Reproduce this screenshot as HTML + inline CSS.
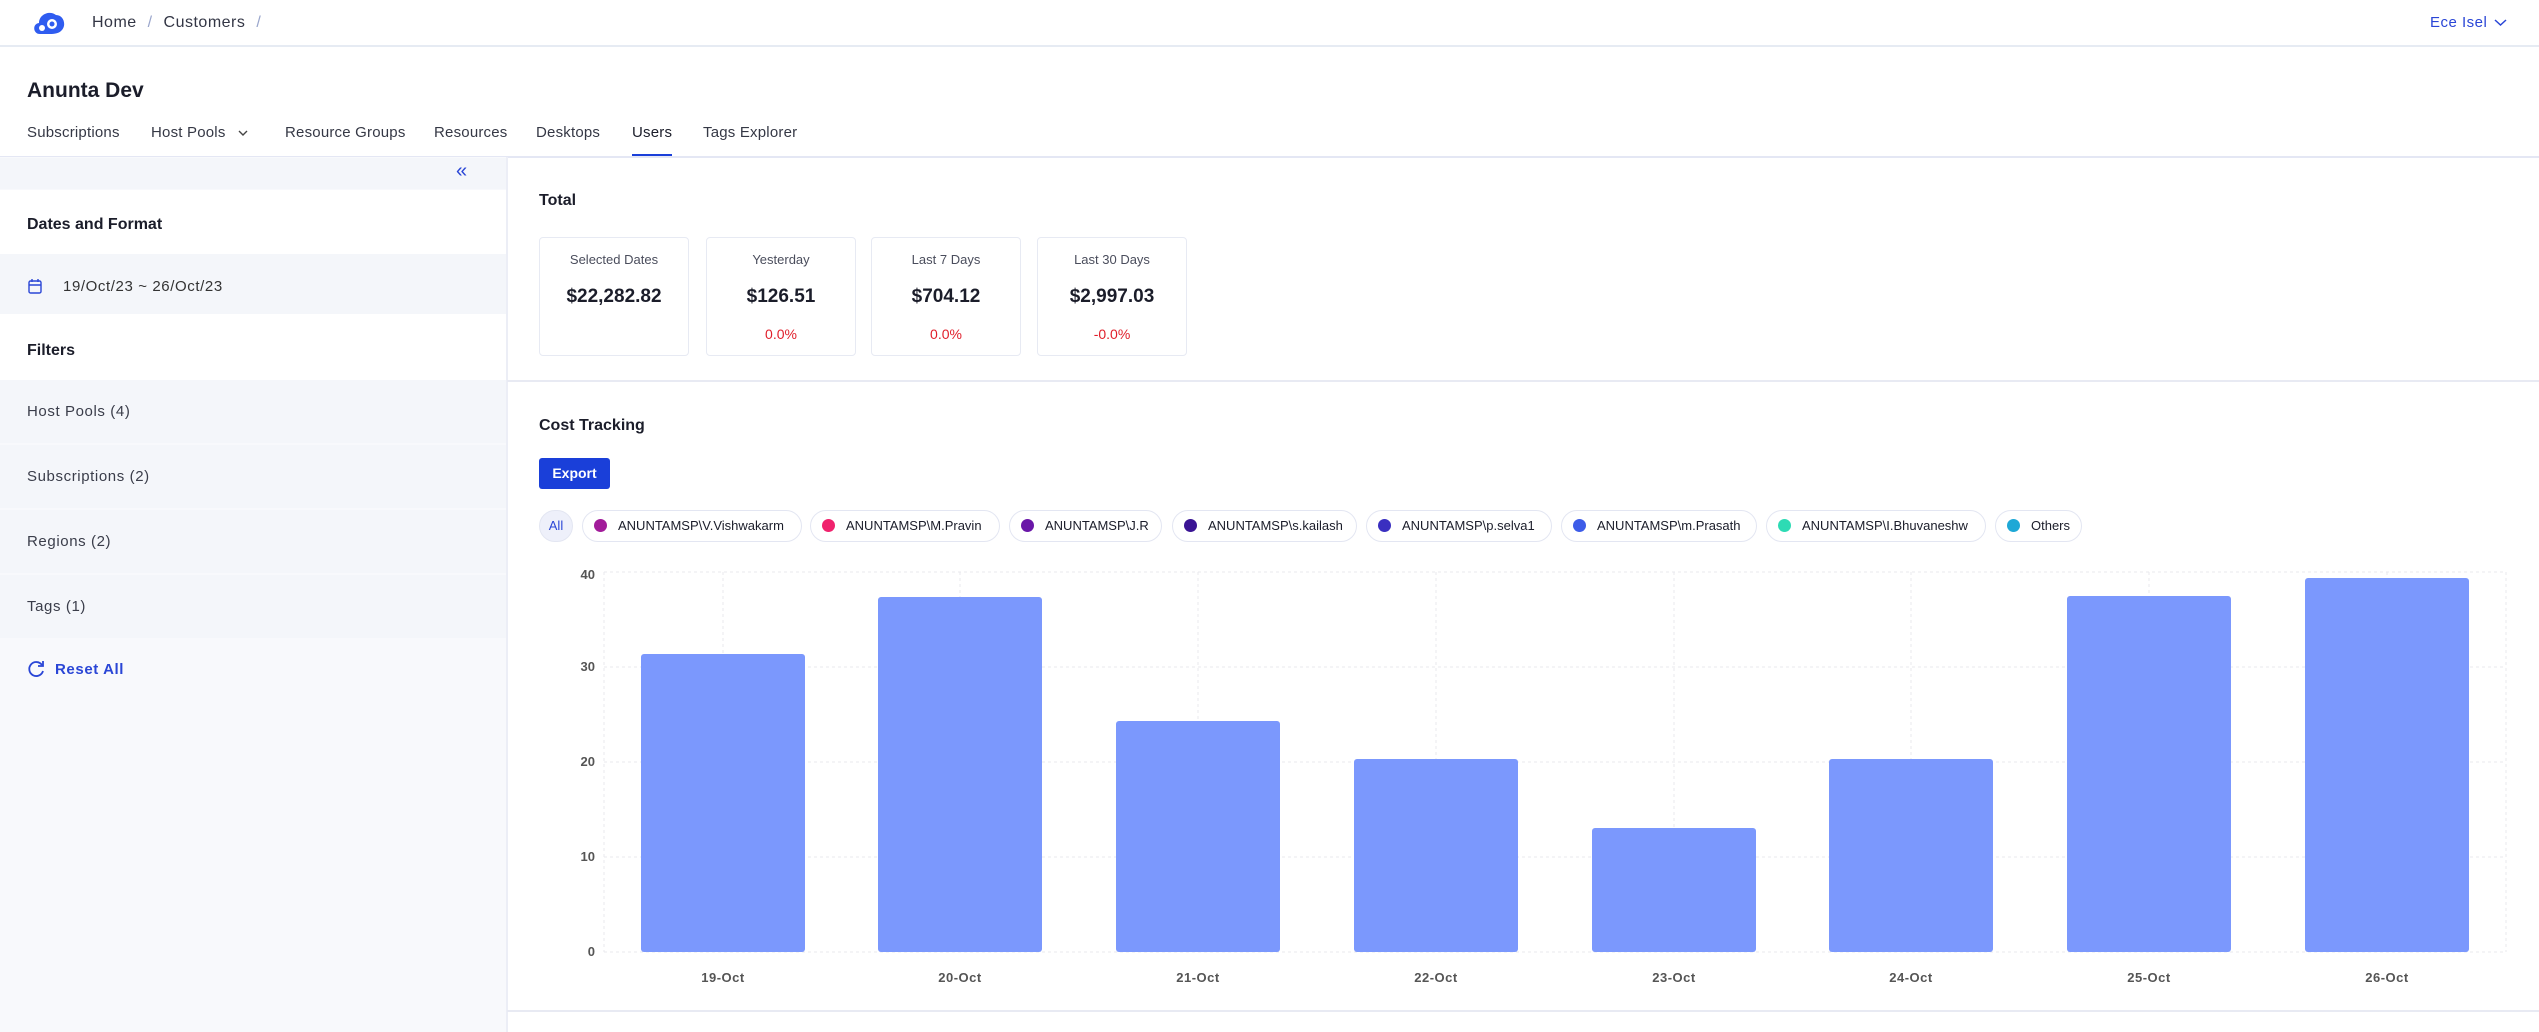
<!DOCTYPE html>
<html><head><meta charset="utf-8"><style>
*{margin:0;padding:0;box-sizing:border-box}
body{width:2539px;height:1032px;position:relative;overflow:hidden;background:#fff;font-family:"Liberation Sans",sans-serif;color:#1f2233}
.a{position:absolute;white-space:nowrap}
.t{font-size:15px;letter-spacing:0.6px;color:#3a3d4a}
.row{position:absolute;left:0;width:506px;background:#f4f6fa}
.card{position:absolute;top:237px;width:150px;height:119px;border:1.5px solid #e7eaf3;border-radius:4px;text-align:center}
.card .l{position:absolute;top:14px;width:100%;font-size:13px;color:#4a4d5c}
.card .v{position:absolute;top:48px;width:100%;font-size:19px;font-weight:bold;color:#1b1d2a}
.card .p{position:absolute;top:88px;width:100%;font-size:14px;color:#e01e2a}
.chip{position:absolute;top:510px;height:32px;border:1.5px solid #e3e6f2;border-radius:16px;font-size:13px;line-height:29px;padding-left:35px;color:#1b1d2a}
.chip i{position:absolute;left:11px;top:8px;width:13px;height:13px;border-radius:50%}
.yl{position:absolute;font-size:13px;font-weight:bold;color:#555;text-align:right;width:30px;left:565px}
.xl{position:absolute;top:970px;font-size:13px;font-weight:bold;color:#555;width:100px;text-align:center;letter-spacing:0.5px}
</style></head><body>
<svg class="a" style="left:32px;top:10px" width="34" height="26" viewBox="0 0 34 26"><path d="M8 24 C1 24 0 14 7 13 C7 4 18 0 24 5 C32 5 35 16 29 21 C26 24 20 24 17 24 Z" fill="#2f5cf0"/><circle cx="20" cy="14" r="5" fill="#fff"/><circle cx="20" cy="14" r="2.5" fill="#2f5cf0"/><circle cx="10" cy="18" r="3" fill="#fff"/></svg>
<div class="a" style="left:92px;top:14px;font-size:16px;color:#333645;letter-spacing:0.5px">Home <span style="color:#9aa6cc;margin:0 6px">/</span> Customers <span style="color:#9aa6cc;margin-left:6px">/</span></div>
<div class="a" style="left:2430px;top:14px;font-size:15px;color:#2a46d6;letter-spacing:0.5px">Ece Isel</div>
<svg class="a" style="left:2494px;top:19px" width="13" height="8"><path d="M1 1 L6.5 6 L12 1" stroke="#2a46d6" stroke-width="1.5" fill="none"/></svg>
<div class="a" style="left:0;top:45px;width:2539px;height:1.5px;background:#e6ebf3"></div>
<div class="a" style="left:27px;top:79px;font-size:21px;font-weight:bold;color:#1b1d2a">Anunta Dev</div>
<div class="a" style="top:124px;left:0;font-size:15px;color:#353845;letter-spacing:0.2px;width:900px">
<span class="a" style="left:27px">Subscriptions</span><span class="a" style="left:151px">Host Pools</span>
<svg class="a" style="left:238px;top:6px" width="10" height="7"><path d="M1 1 L5 5 L9 1" stroke="#444" stroke-width="1.4" fill="none"/></svg>
<span class="a" style="left:285px">Resource Groups</span><span class="a" style="left:434px">Resources</span><span class="a" style="left:536px">Desktops</span><span class="a" style="left:632px;color:#1b1d2a">Users</span><span class="a" style="left:703px">Tags Explorer</span></div>
<div class="a" style="left:632px;top:154px;width:40px;height:3px;background:#1a3fd9"></div>
<div class="a" style="left:0;top:156px;width:2539px;height:1.5px;background:#e4e7f4"></div>
<div class="a" style="left:0;top:157px;width:506px;height:875px;background:#f8f9fc"></div>
<div class="a" style="left:506px;top:157px;width:1.5px;height:875px;background:#eceef6"></div>
<div class="row" style="top:158px;height:31px"></div>
<div class="a" style="left:456px;top:160px;font-size:20px;color:#2a46d6">«</div>
<div class="row" style="top:190px;height:64px;background:#fff"></div>
<div class="a" style="left:27px;top:216px;font-size:16px;font-weight:bold;color:#1b1d2a">Dates and Format</div>
<div class="row" style="top:254px;height:60px"></div>
<svg class="a" style="left:28px;top:278px" width="14" height="16"><rect x="1" y="3" width="12" height="12" rx="1.5" stroke="#2a46d6" stroke-width="1.4" fill="none"/><path d="M1 7 H13 M4 1 V4 M10 1 V4" stroke="#2a46d6" stroke-width="1.4"/></svg>
<div class="a t" style="left:63px;top:278px;color:#333">19/Oct/23 ~ 26/Oct/23</div>
<div class="row" style="top:314px;height:66px;background:#fff"></div>
<div class="a" style="left:27px;top:342px;font-size:16px;font-weight:bold;color:#1b1d2a">Filters</div>
<div class="row" style="top:380px;height:63px"></div><div class="a t" style="left:27px;top:403px">Host Pools (4)</div>
<div class="row" style="top:445px;height:63px"></div><div class="a t" style="left:27px;top:468px">Subscriptions (2)</div>
<div class="row" style="top:510px;height:63px"></div><div class="a t" style="left:27px;top:533px">Regions (2)</div>
<div class="row" style="top:575px;height:63px"></div><div class="a t" style="left:27px;top:598px">Tags (1)</div>
<svg class="a" style="left:27px;top:660px" width="19" height="19"><path d="M15 5 A7 7 0 1 0 16 11" stroke="#2a46d6" stroke-width="1.8" fill="none"/><path d="M16 1 V6 H11" stroke="#2a46d6" stroke-width="1.8" fill="none"/></svg>
<div class="a t" style="left:55px;top:661px;color:#2a46d6;font-weight:bold">Reset All</div>
<div class="a" style="left:539px;top:192px;font-size:16px;font-weight:bold;color:#1b1d2a">Total</div>
<div class="card" style="left:539px"><div class="l">Selected Dates</div><div class="v">$22,282.82</div></div>
<div class="card" style="left:706px"><div class="l">Yesterday</div><div class="v">$126.51</div><div class="p">0.0%</div></div>
<div class="card" style="left:871px"><div class="l">Last 7 Days</div><div class="v">$704.12</div><div class="p">0.0%</div></div>
<div class="card" style="left:1037px"><div class="l">Last 30 Days</div><div class="v">$2,997.03</div><div class="p">-0.0%</div></div>
<div class="a" style="left:507px;top:380px;width:2032px;height:1.5px;background:#e8eaf3"></div>
<div class="a" style="left:539px;top:417px;font-size:16px;font-weight:bold;color:#1b1d2a">Cost Tracking</div>
<div class="a" style="left:539px;top:458px;width:71px;height:31px;background:#1a3fd9;border-radius:3px;color:#fff;font-size:14px;font-weight:bold;text-align:center;line-height:31px">Export</div>
<div class="chip" style="left:539px;width:34px;padding:0;text-align:center;background:#eef0fa;color:#2a46d6">All</div>
<div class="chip" style="left:582px;width:220px"><i style="background:#a21c9a"></i>ANUNTAMSP\V.Vishwakarm</div>
<div class="chip" style="left:810px;width:190px"><i style="background:#f0226d"></i>ANUNTAMSP\M.Pravin</div>
<div class="chip" style="left:1009px;width:153px"><i style="background:#6a17a8"></i>ANUNTAMSP\J.R</div>
<div class="chip" style="left:1172px;width:185px"><i style="background:#3a1494"></i>ANUNTAMSP\s.kailash</div>
<div class="chip" style="left:1366px;width:186px"><i style="background:#3a2fc0"></i>ANUNTAMSP\p.selva1</div>
<div class="chip" style="left:1561px;width:196px"><i style="background:#3d5ce8"></i>ANUNTAMSP\m.Prasath</div>
<div class="chip" style="left:1766px;width:220px"><i style="background:#2ddbb4"></i>ANUNTAMSP\I.Bhuvaneshw</div>
<div class="chip" style="left:1995px;width:87px"><i style="background:#1ea8d6"></i>Others</div>
<svg class="a" style="left:0;top:0" width="2539" height="1032">
<g stroke="#e8e9ee" stroke-width="1" stroke-dasharray="3 3" fill="none">
<path d="M604 572 H2506 M604 667 H2506 M604 762 H2506 M604 857 H2506 M604 952 H2506 M604 572 V952 M2506 572 V952"/>
<path d="M723 572V952 M960 572V952 M1198 572V952 M1436 572V952 M1674 572V952 M1911 572V952 M2149 572V952 M2387 572V952"/>
</g>
<g fill="#7b98fd">
<rect x="641" y="654" width="164" height="298" rx="3"/>
<rect x="878" y="597" width="164" height="355" rx="3"/>
<rect x="1116" y="721" width="164" height="231" rx="3"/>
<rect x="1354" y="759" width="164" height="193" rx="3"/>
<rect x="1592" y="828" width="164" height="124" rx="3"/>
<rect x="1829" y="759" width="164" height="193" rx="3"/>
<rect x="2067" y="596" width="164" height="356" rx="3"/>
<rect x="2305" y="578" width="164" height="374" rx="3"/>
</g></svg>
<div class="yl" style="top:567px">40</div><div class="yl" style="top:659px">30</div><div class="yl" style="top:754px">20</div><div class="yl" style="top:849px">10</div><div class="yl" style="top:944px">0</div>
<div class="xl" style="left:673px">19-Oct</div><div class="xl" style="left:910px">20-Oct</div><div class="xl" style="left:1148px">21-Oct</div><div class="xl" style="left:1386px">22-Oct</div><div class="xl" style="left:1624px">23-Oct</div><div class="xl" style="left:1861px">24-Oct</div><div class="xl" style="left:2099px">25-Oct</div><div class="xl" style="left:2337px">26-Oct</div>
<div class="a" style="left:507px;top:1010px;width:2032px;height:1.5px;background:#e8eaf3"></div>
</body></html>
